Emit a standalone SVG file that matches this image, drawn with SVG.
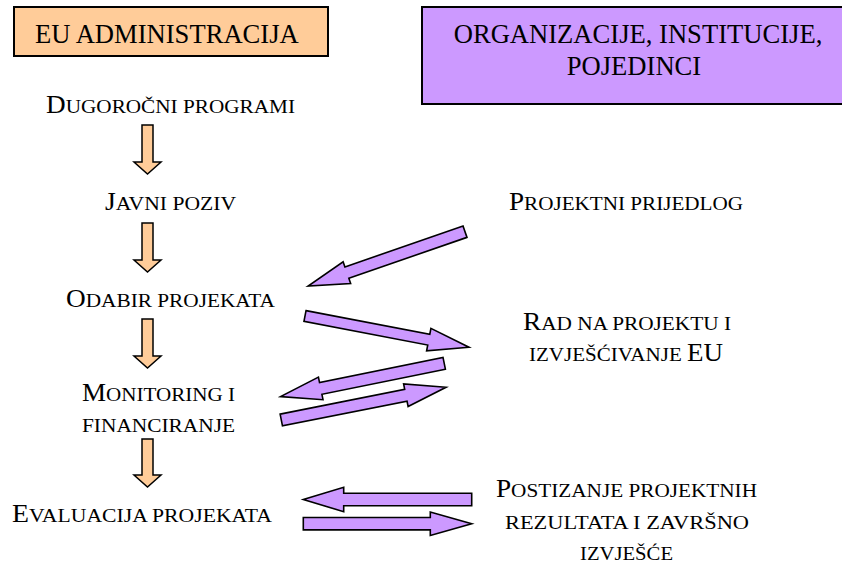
<svg xmlns="http://www.w3.org/2000/svg" width="842" height="565" viewBox="0 0 842 565">
<style>
.t{font-family:"Liberation Serif","Times New Roman",serif;fill:#000}
.box{font-size:26.6px}
.big{font-size:25px}
.sm{font-size:19.5px}
.oa{fill:#FFCC99;stroke:#000;stroke-width:1.5;stroke-linejoin:miter}
.pa{fill:#CC99FF;stroke:#000;stroke-width:1.6;stroke-linejoin:miter}
</style>
<rect width="842" height="565" fill="#fff"/>
<g id="box-eu">
<rect x="14" y="7" width="314" height="49" fill="#FFCC99" stroke="#000" stroke-width="2"/>
<text class="t box" x="35" y="43">EU ADMINISTRACIJA</text>
</g>
<g id="box-org">
<rect x="422" y="7" width="430" height="97" fill="#CC99FF" stroke="#000" stroke-width="2"/>
<text class="t box" x="638" y="43" text-anchor="middle">ORGANIZACIJE, INSTITUCIJE,</text>
<text class="t box" x="634" y="75" text-anchor="middle">POJEDINCI</text>
</g>
<g id="n-dugorocni">
<text class="t sm" x="46" y="113" textLength="249" lengthAdjust="spacingAndGlyphs"><tspan class="big">D</tspan>UGOROČNI PROGRAMI</text>
</g>
<g id="n-javni">
<text class="t sm" x="105" y="210" textLength="131" lengthAdjust="spacingAndGlyphs"><tspan class="big">J</tspan>AVNI POZIV</text>
</g>
<g id="n-odabir">
<text class="t sm" x="66" y="307" textLength="209" lengthAdjust="spacingAndGlyphs"><tspan class="big">O</tspan>DABIR PROJEKATA</text>
</g>
<g id="n-monitoring">
<text class="t sm" x="82" y="401" textLength="153" lengthAdjust="spacingAndGlyphs"><tspan class="big">M</tspan>ONITORING I</text>
<text class="t sm" x="82" y="432" textLength="153" lengthAdjust="spacingAndGlyphs">FINANCIRANJE</text>
</g>
<g id="n-evaluacija">
<text class="t sm" x="12" y="522" textLength="260" lengthAdjust="spacingAndGlyphs"><tspan class="big">E</tspan>VALUACIJA PROJEKATA</text>
</g>
<g id="n-prijedlog">
<text class="t sm" x="509" y="210" textLength="234" lengthAdjust="spacingAndGlyphs"><tspan class="big">P</tspan>ROJEKTNI PRIJEDLOG</text>
</g>
<g id="n-rad">
<text class="t sm" x="523" y="330" textLength="208" lengthAdjust="spacingAndGlyphs"><tspan class="big">R</tspan>AD NA PROJEKTU I</text>
<text class="t sm" x="529" y="361" textLength="194" lengthAdjust="spacingAndGlyphs">IZVJEŠĆIVANJE <tspan class="big">EU</tspan></text>
</g>
<g id="n-postizanje">
<text class="t sm" x="496" y="497" textLength="261" lengthAdjust="spacingAndGlyphs"><tspan class="big">P</tspan>OSTIZANJE PROJEKTNIH</text>
<text class="t sm" x="505" y="529" textLength="244" lengthAdjust="spacingAndGlyphs">REZULTATA I ZAVRŠNO</text>
<text class="t sm" x="580" y="560" textLength="93" lengthAdjust="spacingAndGlyphs">IZVJEŠĆE</text>
</g>
<g id="connectors">
<polygon class="oa" transform="translate(147.5,125)" points="-5.5,0 5.5,0 5.5,37 13.5,37 0,49 -13.5,37 -5.5,37"/>
<polygon class="oa" transform="translate(147.5,223)" points="-5.5,0 5.5,0 5.5,37 13.5,37 0,49 -13.5,37 -5.5,37"/>
<polygon class="oa" transform="translate(147.5,319)" points="-5.5,0 5.5,0 5.5,37 13.5,37 0,49 -13.5,37 -5.5,37"/>
<polygon class="oa" transform="translate(147.5,439)" points="-5.5,0 5.5,0 5.5,36 13.5,36 0,48 -13.5,36 -5.5,36"/>
<polygon class="pa" transform="translate(465,231.7) rotate(160.9)" points="0,-6 125,-6 125,-11.5 166,0 125,11.5 125,6 0,6"/>
<polygon class="pa" transform="translate(305,316) rotate(10.8)" points="0,-5.5 126,-5.5 126,-11.5 167,0 126,11.5 126,5.5 0,5.5"/>
<polygon class="pa" transform="translate(444.2,363.3) rotate(168.5)" points="0,-6 126,-6 126,-11.5 167,0 126,11.5 126,6 0,6"/>
<polygon class="pa" transform="translate(281.3,420) rotate(-11.25)" points="0,-6 127,-6 127,-11.5 168,0 127,11.5 127,6 0,6"/>
<polygon class="pa" transform="translate(471.7,499.5) rotate(180)" points="0,-6.2 128,-6.2 128,-12.2 168.4,0 128,12.2 128,6.2 0,6.2"/>
<polygon class="pa" transform="translate(303.3,523.7)" points="0,-6.2 127,-6.2 127,-11.7 168.4,0 127,11.7 127,6.2 0,6.2"/>
</g>
</svg>
